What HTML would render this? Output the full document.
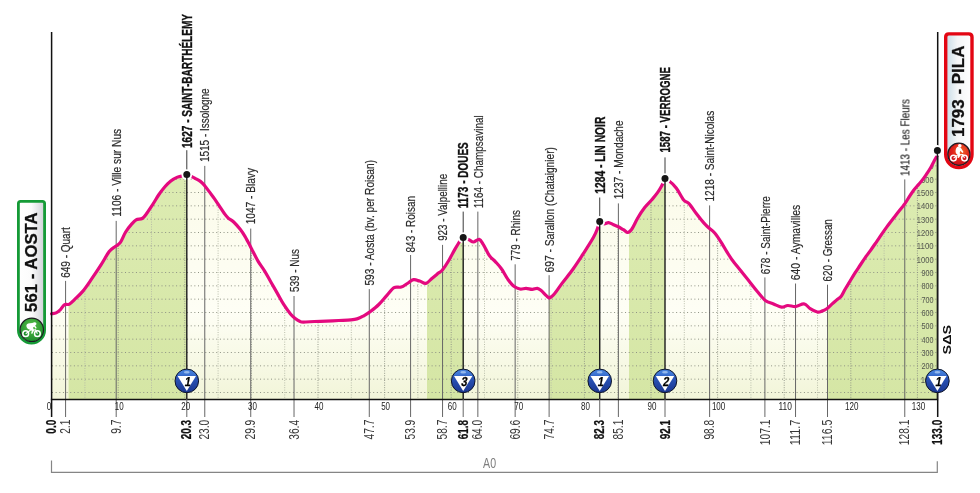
<!DOCTYPE html><html><head><meta charset="utf-8"><title>Stage profile Aosta - Pila</title>
<style>html,body{margin:0;padding:0;background:#fff;}svg{display:block;will-change:transform;}text{font-family:"Liberation Sans",Arial,sans-serif;}</style></head><body>
<svg width="980" height="493" viewBox="0 0 980 493">
<defs>
<clipPath id="area"><path d="M51.6,313.8 C52.4,313.6 54.7,313.6 56.1,312.9 C57.5,312.2 58.8,311.1 60.2,309.8 C61.6,308.5 62.8,305.8 64.3,304.9 C65.8,303.9 67.7,305.0 69.4,304.1 C71.1,303.2 72.3,301.7 74.5,299.6 C76.7,297.5 80.0,294.6 82.7,291.4 C85.4,288.2 87.8,284.6 90.8,280.2 C93.8,275.8 97.9,269.7 101.0,264.9 C104.1,260.1 106.8,254.7 109.2,251.6 C111.6,248.5 113.4,248.0 115.3,246.5 C117.2,245.0 118.7,244.8 120.4,242.4 C122.1,240.0 123.7,235.2 125.5,232.2 C127.3,229.2 129.4,226.6 131.2,224.6 C133.0,222.6 134.3,220.9 136.1,219.9 C137.9,218.9 140.5,219.5 142.2,218.5 C143.9,217.5 144.6,216.3 146.3,214.0 C148.0,211.7 150.4,208.0 152.5,204.8 C154.6,201.6 156.6,198.0 158.6,195.0 C160.6,192.0 162.7,189.3 164.7,187.0 C166.7,184.7 168.8,182.6 170.8,181.0 C172.8,179.4 174.9,178.3 176.9,177.4 C178.9,176.5 181.5,176.2 183.1,175.8 C184.7,175.4 185.6,174.8 186.7,174.8 C187.8,174.8 188.6,175.1 189.9,175.7 C191.2,176.2 192.9,177.1 194.7,178.1 C196.4,179.1 198.8,180.2 200.4,181.4 C202.0,182.6 203.0,183.7 204.5,185.4 C206.0,187.2 207.8,189.7 209.4,191.9 C211.0,194.1 212.6,196.1 214.2,198.4 C215.8,200.7 217.5,203.3 219.1,205.7 C220.7,208.1 222.5,211.0 224.0,213.0 C225.5,215.0 226.4,216.4 228.0,217.9 C229.6,219.4 231.7,220.1 233.7,222.0 C235.7,223.9 238.3,226.9 240.2,229.3 C242.1,231.7 243.5,233.9 245.1,236.6 C246.7,239.3 248.7,243.2 249.9,245.5 C251.1,247.8 251.1,247.9 252.4,250.5 C253.8,253.1 256.0,257.7 258.0,261.1 C260.0,264.5 262.3,267.3 264.5,270.8 C266.7,274.3 268.8,278.4 271.0,282.2 C273.2,286.0 275.3,289.8 277.5,293.6 C279.7,297.4 281.8,301.5 284.0,304.9 C286.2,308.3 288.6,311.6 290.5,313.9 C292.4,316.2 293.8,317.3 295.3,318.5 C296.8,319.7 298.4,320.7 299.7,321.3 C301.0,321.9 300.9,322.1 303.4,322.1 C305.8,322.1 310.5,321.7 314.4,321.5 C318.2,321.3 322.4,321.3 326.5,321.1 C330.6,320.9 334.6,320.7 338.7,320.5 C342.8,320.3 347.8,320.2 350.9,319.9 C353.9,319.6 355.0,319.5 357.0,318.9 C359.0,318.3 361.1,317.3 363.1,316.2 C365.1,315.1 366.6,314.3 369.2,312.4 C371.8,310.4 375.9,307.4 378.8,304.5 C381.8,301.6 384.3,298.1 386.9,295.3 C389.4,292.5 391.7,289.0 394.1,287.6 C396.5,286.2 399.0,287.8 401.2,287.1 C403.4,286.4 405.2,284.8 407.3,283.5 C409.4,282.2 411.4,280.0 413.5,279.6 C415.6,279.2 417.5,280.4 419.6,281.0 C421.7,281.6 423.8,283.9 425.9,283.4 C428.0,282.9 430.1,279.9 432.2,278.2 C434.3,276.5 436.7,274.5 438.4,273.1 C440.1,271.7 440.7,272.1 442.4,270.0 C444.1,267.9 446.6,264.2 448.6,260.8 C450.7,257.4 452.8,252.8 454.7,249.6 C456.6,246.4 458.4,243.4 459.8,241.4 C461.2,239.4 461.8,238.1 463.3,237.8 C464.8,237.5 467.3,239.1 469.0,239.8 C470.7,240.5 471.8,242.1 473.5,242.0 C475.2,241.9 477.6,239.0 479.2,239.4 C480.8,239.8 481.6,241.8 483.3,244.5 C485.0,247.2 487.4,252.8 489.4,255.7 C491.4,258.6 493.5,259.6 495.5,261.8 C497.5,264.0 499.6,266.1 501.6,269.0 C503.7,271.9 505.8,276.3 507.8,279.2 C509.9,282.1 511.9,284.7 513.9,286.3 C515.9,287.9 518.0,288.6 520.0,289.0 C522.0,289.4 524.1,288.3 526.1,288.4 C528.1,288.5 530.3,289.4 532.2,289.4 C534.1,289.4 535.8,288.2 537.3,288.4 C538.8,288.6 539.7,289.4 541.2,290.6 C542.8,291.9 545.2,294.7 546.6,295.9 C548.0,297.1 548.1,298.2 549.4,297.9 C550.7,297.6 552.2,296.4 554.3,294.0 C556.4,291.6 558.9,287.6 562.0,283.4 C565.1,279.2 569.6,273.9 573.1,269.0 C576.6,264.1 579.9,259.0 583.3,253.7 C586.7,248.4 591.1,241.6 593.5,237.3 C595.9,233.1 596.6,230.7 597.6,228.2 C598.6,225.7 598.5,223.0 599.6,222.3 C600.7,221.6 602.7,223.9 604.2,223.9 C605.7,223.9 607.0,222.5 608.5,222.6 C610.0,222.7 611.9,224.0 613.5,224.7 C615.1,225.4 616.8,226.0 618.4,226.8 C620.0,227.6 621.8,228.8 623.4,229.7 C625.0,230.6 626.3,232.6 627.7,232.5 C629.1,232.4 630.2,231.4 631.9,229.0 C633.5,226.6 635.5,221.9 637.6,218.3 C639.7,214.7 642.3,210.7 644.7,207.6 C647.1,204.5 649.7,202.3 651.8,199.8 C653.9,197.3 655.8,195.1 657.5,192.7 C659.2,190.3 660.6,187.7 661.8,185.6 C663.0,183.5 663.7,181.0 664.9,180.2 C666.1,179.4 667.2,179.7 669.1,181.0 C671.0,182.3 674.0,185.0 676.4,188.2 C678.8,191.4 681.6,197.5 683.7,200.1 C685.8,202.7 687.1,201.5 689.2,203.8 C691.3,206.1 694.1,210.6 696.5,213.8 C698.9,217.0 701.8,220.6 703.8,222.9 C705.8,225.2 706.6,225.8 708.4,227.5 C710.2,229.2 712.4,230.3 714.7,233.0 C717.0,235.7 720.0,240.4 722.0,243.6 C724.0,246.8 725.2,249.2 726.9,251.9 C728.6,254.6 729.7,256.6 732.0,259.7 C734.3,262.8 738.0,267.2 740.8,270.8 C743.6,274.4 746.3,277.6 749.0,281.0 C751.7,284.4 754.4,288.0 757.1,291.2 C759.8,294.4 762.6,298.3 765.3,300.4 C768.0,302.5 770.8,302.8 773.5,303.9 C776.2,305.0 779.2,306.8 781.6,307.1 C784.0,307.4 785.4,305.6 787.8,305.5 C790.2,305.4 793.2,306.8 795.9,306.5 C798.6,306.2 801.7,303.5 804.1,303.9 C806.5,304.2 808.0,307.2 810.2,308.6 C812.4,310.0 815.3,311.6 817.3,312.0 C819.2,312.4 820.3,311.7 821.9,311.1 C823.5,310.6 825.2,309.8 826.8,308.7 C828.4,307.6 830.0,305.8 831.6,304.4 C833.2,303.0 834.9,301.5 836.5,300.1 C838.1,298.7 840.0,297.7 841.4,295.9 C842.8,294.1 843.6,291.8 845.1,289.3 C846.6,286.8 848.4,283.8 850.1,281.0 C851.8,278.2 853.5,275.4 855.2,272.7 C856.9,270.0 858.6,267.6 860.3,265.0 C862.0,262.4 863.7,259.8 865.4,257.4 C867.1,255.0 868.4,253.4 870.4,250.6 C872.4,247.8 874.8,244.2 877.5,240.3 C880.2,236.4 883.5,231.5 886.5,227.4 C889.5,223.3 892.5,219.5 895.6,215.5 C898.7,211.5 902.7,206.6 904.9,203.6 C907.1,200.6 907.3,199.8 908.7,197.6 C910.1,195.4 911.9,192.7 913.5,190.5 C915.1,188.3 916.9,186.5 918.5,184.6 C920.1,182.7 921.8,180.8 923.2,178.9 C924.7,177.0 925.9,175.1 927.2,173.2 C928.5,171.3 929.7,169.4 930.9,167.3 C932.1,165.2 933.3,162.6 934.4,160.6 C935.5,158.6 936.9,156.2 937.4,155.3 L937.4,399.5 L51.6,399.5 Z"/></clipPath>
<linearGradient id="gCream" gradientUnits="userSpaceOnUse" x1="0" y1="170" x2="0" y2="399"><stop offset="0" stop-color="#fbfbe9"/><stop offset="0.62" stop-color="#fefef5"/><stop offset="1" stop-color="#f2f5d9"/></linearGradient>
<linearGradient id="gGreen" gradientUnits="userSpaceOnUse" x1="0" y1="150" x2="0" y2="399"><stop offset="0" stop-color="#ddecb3"/><stop offset="1" stop-color="#d5e6a5"/></linearGradient>
<linearGradient id="gKom" x1="0" y1="0" x2="0" y2="1"><stop offset="0" stop-color="#4a86e0"/><stop offset="0.26" stop-color="#3a70d0"/><stop offset="0.3" stop-color="#2c58bc"/><stop offset="1" stop-color="#1a3690"/></linearGradient>
<radialGradient id="gGreenBall" cx="0.5" cy="0.35" r="0.65"><stop offset="0" stop-color="#5cc04a"/><stop offset="1" stop-color="#1a8a2a"/></radialGradient>
<radialGradient id="gRedBall" cx="0.6" cy="0.35" r="0.65"><stop offset="0" stop-color="#f06a2a"/><stop offset="0.6" stop-color="#e0201a"/><stop offset="1" stop-color="#c8101a"/></radialGradient>
<linearGradient id="gBadgeG" x1="0" y1="0" x2="1" y2="0"><stop offset="0" stop-color="#ffffff"/><stop offset="0.5" stop-color="#fbfbfb"/><stop offset="1" stop-color="#cfd0d6"/></linearGradient>
<linearGradient id="gBadgeR" x1="0" y1="0" x2="1" y2="0"><stop offset="0" stop-color="#c6dbe6"/><stop offset="0.45" stop-color="#f4f6f7"/><stop offset="1" stop-color="#ffffff"/></linearGradient>
</defs>
<g clip-path="url(#area)">
<rect x="51.6" y="140" width="886" height="260" fill="url(#gCream)"/>
<rect x="68.6" y="140" width="118.1" height="260" fill="url(#gGreen)"/>
<rect x="427.0" y="140" width="36.3" height="260" fill="url(#gGreen)"/>
<rect x="549.0" y="140" width="50.6" height="260" fill="url(#gGreen)"/>
<rect x="629.0" y="140" width="35.9" height="260" fill="url(#gGreen)"/>
<rect x="828.0" y="140" width="109.4" height="260" fill="url(#gGreen)"/>
<line x1="52" y1="392.50" x2="937" y2="392.50" stroke="#8f9384" stroke-width="1" stroke-dasharray="1 2.65"/>
<line x1="52" y1="379.17" x2="937" y2="379.17" stroke="#8f9384" stroke-width="1" stroke-dasharray="1 2.65"/>
<line x1="52" y1="365.83" x2="937" y2="365.83" stroke="#8f9384" stroke-width="1" stroke-dasharray="1 2.65"/>
<line x1="52" y1="352.50" x2="937" y2="352.50" stroke="#8f9384" stroke-width="1" stroke-dasharray="1 2.65"/>
<line x1="52" y1="339.17" x2="937" y2="339.17" stroke="#8f9384" stroke-width="1" stroke-dasharray="1 2.65"/>
<line x1="52" y1="325.83" x2="937" y2="325.83" stroke="#8f9384" stroke-width="1" stroke-dasharray="1 2.65"/>
<line x1="52" y1="312.50" x2="937" y2="312.50" stroke="#8f9384" stroke-width="1" stroke-dasharray="1 2.65"/>
<line x1="52" y1="299.17" x2="937" y2="299.17" stroke="#8f9384" stroke-width="1" stroke-dasharray="1 2.65"/>
<line x1="52" y1="285.84" x2="937" y2="285.84" stroke="#8f9384" stroke-width="1" stroke-dasharray="1 2.65"/>
<line x1="52" y1="272.50" x2="937" y2="272.50" stroke="#8f9384" stroke-width="1" stroke-dasharray="1 2.65"/>
<line x1="52" y1="259.17" x2="937" y2="259.17" stroke="#8f9384" stroke-width="1" stroke-dasharray="1 2.65"/>
<line x1="52" y1="245.84" x2="937" y2="245.84" stroke="#8f9384" stroke-width="1" stroke-dasharray="1 2.65"/>
<line x1="52" y1="232.50" x2="937" y2="232.50" stroke="#8f9384" stroke-width="1" stroke-dasharray="1 2.65"/>
<line x1="52" y1="219.17" x2="937" y2="219.17" stroke="#8f9384" stroke-width="1" stroke-dasharray="1 2.65"/>
<line x1="52" y1="205.84" x2="937" y2="205.84" stroke="#8f9384" stroke-width="1" stroke-dasharray="1 2.65"/>
<line x1="52" y1="192.50" x2="937" y2="192.50" stroke="#8f9384" stroke-width="1" stroke-dasharray="1 2.65"/>
<line x1="52" y1="179.17" x2="937" y2="179.17" stroke="#8f9384" stroke-width="1" stroke-dasharray="1 2.65"/>
<line x1="52" y1="165.84" x2="937" y2="165.84" stroke="#8f9384" stroke-width="1" stroke-dasharray="1 2.65"/>
<line x1="84.90" y1="140" x2="84.90" y2="399" stroke="#b4b9a6" stroke-width="0.9" stroke-dasharray="1 1.4"/>
<line x1="118.20" y1="140" x2="118.20" y2="399" stroke="#8d9283" stroke-width="0.9" stroke-dasharray="1 1.4"/>
<line x1="151.50" y1="140" x2="151.50" y2="399" stroke="#b4b9a6" stroke-width="0.9" stroke-dasharray="1 1.4"/>
<line x1="184.80" y1="140" x2="184.80" y2="399" stroke="#8d9283" stroke-width="0.9" stroke-dasharray="1 1.4"/>
<line x1="218.10" y1="140" x2="218.10" y2="399" stroke="#b4b9a6" stroke-width="0.9" stroke-dasharray="1 1.4"/>
<line x1="251.40" y1="140" x2="251.40" y2="399" stroke="#8d9283" stroke-width="0.9" stroke-dasharray="1 1.4"/>
<line x1="284.71" y1="140" x2="284.71" y2="399" stroke="#b4b9a6" stroke-width="0.9" stroke-dasharray="1 1.4"/>
<line x1="318.01" y1="140" x2="318.01" y2="399" stroke="#8d9283" stroke-width="0.9" stroke-dasharray="1 1.4"/>
<line x1="351.31" y1="140" x2="351.31" y2="399" stroke="#b4b9a6" stroke-width="0.9" stroke-dasharray="1 1.4"/>
<line x1="384.61" y1="140" x2="384.61" y2="399" stroke="#8d9283" stroke-width="0.9" stroke-dasharray="1 1.4"/>
<line x1="417.91" y1="140" x2="417.91" y2="399" stroke="#b4b9a6" stroke-width="0.9" stroke-dasharray="1 1.4"/>
<line x1="451.21" y1="140" x2="451.21" y2="399" stroke="#8d9283" stroke-width="0.9" stroke-dasharray="1 1.4"/>
<line x1="484.51" y1="140" x2="484.51" y2="399" stroke="#b4b9a6" stroke-width="0.9" stroke-dasharray="1 1.4"/>
<line x1="517.81" y1="140" x2="517.81" y2="399" stroke="#8d9283" stroke-width="0.9" stroke-dasharray="1 1.4"/>
<line x1="551.11" y1="140" x2="551.11" y2="399" stroke="#b4b9a6" stroke-width="0.9" stroke-dasharray="1 1.4"/>
<line x1="584.41" y1="140" x2="584.41" y2="399" stroke="#8d9283" stroke-width="0.9" stroke-dasharray="1 1.4"/>
<line x1="617.71" y1="140" x2="617.71" y2="399" stroke="#b4b9a6" stroke-width="0.9" stroke-dasharray="1 1.4"/>
<line x1="651.01" y1="140" x2="651.01" y2="399" stroke="#8d9283" stroke-width="0.9" stroke-dasharray="1 1.4"/>
<line x1="684.31" y1="140" x2="684.31" y2="399" stroke="#b4b9a6" stroke-width="0.9" stroke-dasharray="1 1.4"/>
<line x1="717.62" y1="140" x2="717.62" y2="399" stroke="#8d9283" stroke-width="0.9" stroke-dasharray="1 1.4"/>
<line x1="750.92" y1="140" x2="750.92" y2="399" stroke="#b4b9a6" stroke-width="0.9" stroke-dasharray="1 1.4"/>
<line x1="784.22" y1="140" x2="784.22" y2="399" stroke="#8d9283" stroke-width="0.9" stroke-dasharray="1 1.4"/>
<line x1="817.52" y1="140" x2="817.52" y2="399" stroke="#b4b9a6" stroke-width="0.9" stroke-dasharray="1 1.4"/>
<line x1="850.82" y1="140" x2="850.82" y2="399" stroke="#8d9283" stroke-width="0.9" stroke-dasharray="1 1.4"/>
<line x1="884.12" y1="140" x2="884.12" y2="399" stroke="#b4b9a6" stroke-width="0.9" stroke-dasharray="1 1.4"/>
<line x1="917.42" y1="140" x2="917.42" y2="399" stroke="#8d9283" stroke-width="0.9" stroke-dasharray="1 1.4"/>
<text x="933.60" y="382.77" font-size="8.4" fill="#55584f" text-anchor="end" textLength="12.94" lengthAdjust="spacingAndGlyphs">100</text>
<text x="933.59" y="369.43" font-size="8.4" fill="#55584f" text-anchor="end" textLength="12.20" lengthAdjust="spacingAndGlyphs">200</text>
<text x="933.58" y="356.10" font-size="8.4" fill="#55584f" text-anchor="end" textLength="12.11" lengthAdjust="spacingAndGlyphs">300</text>
<text x="933.58" y="342.77" font-size="8.4" fill="#55584f" text-anchor="end" textLength="12.00" lengthAdjust="spacingAndGlyphs">400</text>
<text x="933.58" y="329.44" font-size="8.4" fill="#55584f" text-anchor="end" textLength="12.12" lengthAdjust="spacingAndGlyphs">500</text>
<text x="933.59" y="316.10" font-size="8.4" fill="#55584f" text-anchor="end" textLength="12.21" lengthAdjust="spacingAndGlyphs">600</text>
<text x="933.59" y="302.77" font-size="8.4" fill="#55584f" text-anchor="end" textLength="12.21" lengthAdjust="spacingAndGlyphs">700</text>
<text x="933.58" y="289.44" font-size="8.4" fill="#55584f" text-anchor="end" textLength="12.15" lengthAdjust="spacingAndGlyphs">800</text>
<text x="933.59" y="276.10" font-size="8.4" fill="#55584f" text-anchor="end" textLength="12.18" lengthAdjust="spacingAndGlyphs">900</text>
<text x="933.59" y="262.77" font-size="8.4" fill="#55584f" text-anchor="end" textLength="16.77" lengthAdjust="spacingAndGlyphs">1000</text>
<text x="933.59" y="249.44" font-size="8.4" fill="#55584f" text-anchor="end" textLength="16.77" lengthAdjust="spacingAndGlyphs">1100</text>
<text x="933.59" y="236.10" font-size="8.4" fill="#55584f" text-anchor="end" textLength="16.77" lengthAdjust="spacingAndGlyphs">1200</text>
<text x="933.59" y="222.77" font-size="8.4" fill="#55584f" text-anchor="end" textLength="16.77" lengthAdjust="spacingAndGlyphs">1300</text>
<text x="933.59" y="209.44" font-size="8.4" fill="#55584f" text-anchor="end" textLength="16.77" lengthAdjust="spacingAndGlyphs">1400</text>
<text x="933.59" y="196.10" font-size="8.4" fill="#55584f" text-anchor="end" textLength="16.77" lengthAdjust="spacingAndGlyphs">1500</text>
<text x="933.59" y="182.77" font-size="8.4" fill="#55584f" text-anchor="end" textLength="16.77" lengthAdjust="spacingAndGlyphs">1600</text>
<text x="933.59" y="169.44" font-size="8.4" fill="#55584f" text-anchor="end" textLength="16.77" lengthAdjust="spacingAndGlyphs">1700</text>
</g>
<line x1="65.59" y1="280.9" x2="65.59" y2="417" stroke="#666666" stroke-width="1"/>
<line x1="116.20" y1="220.9" x2="116.20" y2="417" stroke="#666666" stroke-width="1"/>
<line x1="204.78" y1="165.9" x2="204.78" y2="417" stroke="#666666" stroke-width="1"/>
<line x1="250.74" y1="228.6" x2="250.74" y2="417" stroke="#666666" stroke-width="1"/>
<line x1="294.03" y1="296.0" x2="294.03" y2="417" stroke="#666666" stroke-width="1"/>
<line x1="369.29" y1="289.1" x2="369.29" y2="417" stroke="#666666" stroke-width="1"/>
<line x1="410.58" y1="255.0" x2="410.58" y2="417" stroke="#666666" stroke-width="1"/>
<line x1="442.55" y1="244.9" x2="442.55" y2="417" stroke="#666666" stroke-width="1"/>
<line x1="477.85" y1="211.6" x2="477.85" y2="417" stroke="#666666" stroke-width="1"/>
<line x1="515.15" y1="264.3" x2="515.15" y2="417" stroke="#666666" stroke-width="1"/>
<line x1="549.11" y1="275.2" x2="549.11" y2="417" stroke="#666666" stroke-width="1"/>
<line x1="618.38" y1="203.4" x2="618.38" y2="417" stroke="#666666" stroke-width="1"/>
<line x1="709.62" y1="205.4" x2="709.62" y2="417" stroke="#666666" stroke-width="1"/>
<line x1="764.90" y1="277.4" x2="764.90" y2="417" stroke="#666666" stroke-width="1"/>
<line x1="795.54" y1="283.5" x2="795.54" y2="417" stroke="#666666" stroke-width="1"/>
<line x1="827.51" y1="284.7" x2="827.51" y2="417" stroke="#666666" stroke-width="1"/>
<line x1="904.77" y1="179.4" x2="904.77" y2="417" stroke="#666666" stroke-width="1"/>
<line x1="186.80" y1="150.2" x2="186.80" y2="174.6" stroke="#3a3a3a" stroke-width="1"/>
<line x1="463.20" y1="211.6" x2="463.20" y2="237.6" stroke="#3a3a3a" stroke-width="1"/>
<line x1="599.73" y1="197.5" x2="599.73" y2="221.5" stroke="#3a3a3a" stroke-width="1"/>
<line x1="665.00" y1="157.4" x2="665.00" y2="178.6" stroke="#3a3a3a" stroke-width="1"/>
<path d="M51.6,313.8 C52.4,313.6 54.7,313.6 56.1,312.9 C57.5,312.2 58.8,311.1 60.2,309.8 C61.6,308.5 62.8,305.8 64.3,304.9 C65.8,303.9 67.7,305.0 69.4,304.1 C71.1,303.2 72.3,301.7 74.5,299.6 C76.7,297.5 80.0,294.6 82.7,291.4 C85.4,288.2 87.8,284.6 90.8,280.2 C93.8,275.8 97.9,269.7 101.0,264.9 C104.1,260.1 106.8,254.7 109.2,251.6 C111.6,248.5 113.4,248.0 115.3,246.5 C117.2,245.0 118.7,244.8 120.4,242.4 C122.1,240.0 123.7,235.2 125.5,232.2 C127.3,229.2 129.4,226.6 131.2,224.6 C133.0,222.6 134.3,220.9 136.1,219.9 C137.9,218.9 140.5,219.5 142.2,218.5 C143.9,217.5 144.6,216.3 146.3,214.0 C148.0,211.7 150.4,208.0 152.5,204.8 C154.6,201.6 156.6,198.0 158.6,195.0 C160.6,192.0 162.7,189.3 164.7,187.0 C166.7,184.7 168.8,182.6 170.8,181.0 C172.8,179.4 174.9,178.3 176.9,177.4 C178.9,176.5 181.5,176.2 183.1,175.8 C184.7,175.4 185.6,174.8 186.7,174.8 C187.8,174.8 188.6,175.1 189.9,175.7 C191.2,176.2 192.9,177.1 194.7,178.1 C196.4,179.1 198.8,180.2 200.4,181.4 C202.0,182.6 203.0,183.7 204.5,185.4 C206.0,187.2 207.8,189.7 209.4,191.9 C211.0,194.1 212.6,196.1 214.2,198.4 C215.8,200.7 217.5,203.3 219.1,205.7 C220.7,208.1 222.5,211.0 224.0,213.0 C225.5,215.0 226.4,216.4 228.0,217.9 C229.6,219.4 231.7,220.1 233.7,222.0 C235.7,223.9 238.3,226.9 240.2,229.3 C242.1,231.7 243.5,233.9 245.1,236.6 C246.7,239.3 248.7,243.2 249.9,245.5 C251.1,247.8 251.1,247.9 252.4,250.5 C253.8,253.1 256.0,257.7 258.0,261.1 C260.0,264.5 262.3,267.3 264.5,270.8 C266.7,274.3 268.8,278.4 271.0,282.2 C273.2,286.0 275.3,289.8 277.5,293.6 C279.7,297.4 281.8,301.5 284.0,304.9 C286.2,308.3 288.6,311.6 290.5,313.9 C292.4,316.2 293.8,317.3 295.3,318.5 C296.8,319.7 298.4,320.7 299.7,321.3 C301.0,321.9 300.9,322.1 303.4,322.1 C305.8,322.1 310.5,321.7 314.4,321.5 C318.2,321.3 322.4,321.3 326.5,321.1 C330.6,320.9 334.6,320.7 338.7,320.5 C342.8,320.3 347.8,320.2 350.9,319.9 C353.9,319.6 355.0,319.5 357.0,318.9 C359.0,318.3 361.1,317.3 363.1,316.2 C365.1,315.1 366.6,314.3 369.2,312.4 C371.8,310.4 375.9,307.4 378.8,304.5 C381.8,301.6 384.3,298.1 386.9,295.3 C389.4,292.5 391.7,289.0 394.1,287.6 C396.5,286.2 399.0,287.8 401.2,287.1 C403.4,286.4 405.2,284.8 407.3,283.5 C409.4,282.2 411.4,280.0 413.5,279.6 C415.6,279.2 417.5,280.4 419.6,281.0 C421.7,281.6 423.8,283.9 425.9,283.4 C428.0,282.9 430.1,279.9 432.2,278.2 C434.3,276.5 436.7,274.5 438.4,273.1 C440.1,271.7 440.7,272.1 442.4,270.0 C444.1,267.9 446.6,264.2 448.6,260.8 C450.7,257.4 452.8,252.8 454.7,249.6 C456.6,246.4 458.4,243.4 459.8,241.4 C461.2,239.4 461.8,238.1 463.3,237.8 C464.8,237.5 467.3,239.1 469.0,239.8 C470.7,240.5 471.8,242.1 473.5,242.0 C475.2,241.9 477.6,239.0 479.2,239.4 C480.8,239.8 481.6,241.8 483.3,244.5 C485.0,247.2 487.4,252.8 489.4,255.7 C491.4,258.6 493.5,259.6 495.5,261.8 C497.5,264.0 499.6,266.1 501.6,269.0 C503.7,271.9 505.8,276.3 507.8,279.2 C509.9,282.1 511.9,284.7 513.9,286.3 C515.9,287.9 518.0,288.6 520.0,289.0 C522.0,289.4 524.1,288.3 526.1,288.4 C528.1,288.5 530.3,289.4 532.2,289.4 C534.1,289.4 535.8,288.2 537.3,288.4 C538.8,288.6 539.7,289.4 541.2,290.6 C542.8,291.9 545.2,294.7 546.6,295.9 C548.0,297.1 548.1,298.2 549.4,297.9 C550.7,297.6 552.2,296.4 554.3,294.0 C556.4,291.6 558.9,287.6 562.0,283.4 C565.1,279.2 569.6,273.9 573.1,269.0 C576.6,264.1 579.9,259.0 583.3,253.7 C586.7,248.4 591.1,241.6 593.5,237.3 C595.9,233.1 596.6,230.7 597.6,228.2 C598.6,225.7 598.5,223.0 599.6,222.3 C600.7,221.6 602.7,223.9 604.2,223.9 C605.7,223.9 607.0,222.5 608.5,222.6 C610.0,222.7 611.9,224.0 613.5,224.7 C615.1,225.4 616.8,226.0 618.4,226.8 C620.0,227.6 621.8,228.8 623.4,229.7 C625.0,230.6 626.3,232.6 627.7,232.5 C629.1,232.4 630.2,231.4 631.9,229.0 C633.5,226.6 635.5,221.9 637.6,218.3 C639.7,214.7 642.3,210.7 644.7,207.6 C647.1,204.5 649.7,202.3 651.8,199.8 C653.9,197.3 655.8,195.1 657.5,192.7 C659.2,190.3 660.6,187.7 661.8,185.6 C663.0,183.5 663.7,181.0 664.9,180.2 C666.1,179.4 667.2,179.7 669.1,181.0 C671.0,182.3 674.0,185.0 676.4,188.2 C678.8,191.4 681.6,197.5 683.7,200.1 C685.8,202.7 687.1,201.5 689.2,203.8 C691.3,206.1 694.1,210.6 696.5,213.8 C698.9,217.0 701.8,220.6 703.8,222.9 C705.8,225.2 706.6,225.8 708.4,227.5 C710.2,229.2 712.4,230.3 714.7,233.0 C717.0,235.7 720.0,240.4 722.0,243.6 C724.0,246.8 725.2,249.2 726.9,251.9 C728.6,254.6 729.7,256.6 732.0,259.7 C734.3,262.8 738.0,267.2 740.8,270.8 C743.6,274.4 746.3,277.6 749.0,281.0 C751.7,284.4 754.4,288.0 757.1,291.2 C759.8,294.4 762.6,298.3 765.3,300.4 C768.0,302.5 770.8,302.8 773.5,303.9 C776.2,305.0 779.2,306.8 781.6,307.1 C784.0,307.4 785.4,305.6 787.8,305.5 C790.2,305.4 793.2,306.8 795.9,306.5 C798.6,306.2 801.7,303.5 804.1,303.9 C806.5,304.2 808.0,307.2 810.2,308.6 C812.4,310.0 815.3,311.6 817.3,312.0 C819.2,312.4 820.3,311.7 821.9,311.1 C823.5,310.6 825.2,309.8 826.8,308.7 C828.4,307.6 830.0,305.8 831.6,304.4 C833.2,303.0 834.9,301.5 836.5,300.1 C838.1,298.7 840.0,297.7 841.4,295.9 C842.8,294.1 843.6,291.8 845.1,289.3 C846.6,286.8 848.4,283.8 850.1,281.0 C851.8,278.2 853.5,275.4 855.2,272.7 C856.9,270.0 858.6,267.6 860.3,265.0 C862.0,262.4 863.7,259.8 865.4,257.4 C867.1,255.0 868.4,253.4 870.4,250.6 C872.4,247.8 874.8,244.2 877.5,240.3 C880.2,236.4 883.5,231.5 886.5,227.4 C889.5,223.3 892.5,219.5 895.6,215.5 C898.7,211.5 902.7,206.6 904.9,203.6 C907.1,200.6 907.3,199.8 908.7,197.6 C910.1,195.4 911.9,192.7 913.5,190.5 C915.1,188.3 916.9,186.5 918.5,184.6 C920.1,182.7 921.8,180.8 923.2,178.9 C924.7,177.0 925.9,175.1 927.2,173.2 C928.5,171.3 929.7,169.4 930.9,167.3 C932.1,165.2 933.3,162.6 934.4,160.6 C935.5,158.6 936.9,156.2 937.4,155.3" fill="none" stroke="#e4097f" stroke-width="3.2" stroke-linejoin="round" stroke-linecap="round"/>
<line x1="51.6" y1="32" x2="51.6" y2="417" stroke="#111" stroke-width="1.5"/>
<line x1="937.7" y1="32" x2="937.7" y2="417" stroke="#111" stroke-width="1.5"/>
<line x1="50.85" y1="399.5" x2="938.15" y2="399.5" stroke="#111" stroke-width="1.6"/>
<circle cx="186.80" cy="174.6" r="5.4" fill="#fff"/>
<line x1="186.80" y1="174.6" x2="186.80" y2="399" stroke="#1a1a1a" stroke-width="1.4"/>
<line x1="186.80" y1="399" x2="186.80" y2="417" stroke="#666666" stroke-width="1"/>
<circle cx="186.80" cy="174.6" r="3.5" fill="#161616"/>
<circle cx="463.20" cy="237.6" r="5.4" fill="#fff"/>
<line x1="463.20" y1="237.6" x2="463.20" y2="399" stroke="#1a1a1a" stroke-width="1.4"/>
<line x1="463.20" y1="399" x2="463.20" y2="417" stroke="#666666" stroke-width="1"/>
<circle cx="463.20" cy="237.6" r="3.5" fill="#161616"/>
<circle cx="599.73" cy="221.5" r="5.4" fill="#fff"/>
<line x1="599.73" y1="221.5" x2="599.73" y2="399" stroke="#1a1a1a" stroke-width="1.4"/>
<line x1="599.73" y1="399" x2="599.73" y2="417" stroke="#666666" stroke-width="1"/>
<circle cx="599.73" cy="221.5" r="3.5" fill="#161616"/>
<circle cx="665.00" cy="178.6" r="5.4" fill="#fff"/>
<line x1="665.00" y1="178.6" x2="665.00" y2="399" stroke="#1a1a1a" stroke-width="1.4"/>
<line x1="665.00" y1="399" x2="665.00" y2="417" stroke="#666666" stroke-width="1"/>
<circle cx="665.00" cy="178.6" r="3.5" fill="#161616"/>
<circle cx="937.40" cy="150.5" r="5.4" fill="#fff"/>
<line x1="937.40" y1="150.5" x2="937.40" y2="399" stroke="#1a1a1a" stroke-width="1.4"/>
<circle cx="937.40" cy="150.5" r="3.5" fill="#161616"/>
<g transform="translate(186.80,380.9)">
<circle r="11.8" fill="url(#gKom)" stroke="#0e1428" stroke-width="1.0"/>
<path d="M-9.2,-5.0 L9.2,-5.0 L0,10.2 Z" fill="#fff"/>
<ellipse cx="0" cy="-8.6" rx="2.9" ry="1.2" fill="#9fc0ee" opacity="0.9"/>
<text transform="translate(0.5,5.3) skewX(-10)" font-size="13" font-weight="bold" text-anchor="middle" fill="#000" stroke="#000" stroke-width="0.3" textLength="6.0" lengthAdjust="spacingAndGlyphs">1</text>
</g>
<g transform="translate(463.20,380.9)">
<circle r="11.8" fill="url(#gKom)" stroke="#0e1428" stroke-width="1.0"/>
<path d="M-9.2,-5.0 L9.2,-5.0 L0,10.2 Z" fill="#fff"/>
<ellipse cx="0" cy="-8.6" rx="2.9" ry="1.2" fill="#9fc0ee" opacity="0.9"/>
<text transform="translate(0.5,5.3) skewX(-10)" font-size="13" font-weight="bold" text-anchor="middle" fill="#000" stroke="#000" stroke-width="0.3" textLength="6.0" lengthAdjust="spacingAndGlyphs">3</text>
</g>
<g transform="translate(599.73,380.9)">
<circle r="11.8" fill="url(#gKom)" stroke="#0e1428" stroke-width="1.0"/>
<path d="M-9.2,-5.0 L9.2,-5.0 L0,10.2 Z" fill="#fff"/>
<ellipse cx="0" cy="-8.6" rx="2.9" ry="1.2" fill="#9fc0ee" opacity="0.9"/>
<text transform="translate(0.5,5.3) skewX(-10)" font-size="13" font-weight="bold" text-anchor="middle" fill="#000" stroke="#000" stroke-width="0.3" textLength="6.0" lengthAdjust="spacingAndGlyphs">1</text>
</g>
<g transform="translate(665.00,380.9)">
<circle r="11.8" fill="url(#gKom)" stroke="#0e1428" stroke-width="1.0"/>
<path d="M-9.2,-5.0 L9.2,-5.0 L0,10.2 Z" fill="#fff"/>
<ellipse cx="0" cy="-8.6" rx="2.9" ry="1.2" fill="#9fc0ee" opacity="0.9"/>
<text transform="translate(0.5,5.3) skewX(-10)" font-size="13" font-weight="bold" text-anchor="middle" fill="#000" stroke="#000" stroke-width="0.3" textLength="6.0" lengthAdjust="spacingAndGlyphs">2</text>
</g>
<g transform="translate(937.40,380.9)">
<circle r="11.8" fill="url(#gKom)" stroke="#0e1428" stroke-width="1.0"/>
<path d="M-9.2,-5.0 L9.2,-5.0 L0,10.2 Z" fill="#fff"/>
<ellipse cx="0" cy="-8.6" rx="2.9" ry="1.2" fill="#9fc0ee" opacity="0.9"/>
<text transform="translate(0.5,5.3) skewX(-10)" font-size="13" font-weight="bold" text-anchor="middle" fill="#000" stroke="#000" stroke-width="0.3" textLength="6.0" lengthAdjust="spacingAndGlyphs">1</text>
</g>
<text transform="translate(70.26,277.81) rotate(-90)" font-size="13.40" fill="#2b2b2b" textLength="50.58" lengthAdjust="spacingAndGlyphs" stroke="#2b2b2b" stroke-width="0.2">649 - Quart</text>
<text transform="translate(120.88,216.67) rotate(-90)" font-size="13.40" fill="#2b2b2b" textLength="87.83" lengthAdjust="spacingAndGlyphs" stroke="#2b2b2b" stroke-width="0.2">1106 - Ville sur Nus</text>
<text transform="translate(191.76,148.03) rotate(-90)" font-size="14.20" font-weight="bold" fill="#111" textLength="134.09" lengthAdjust="spacingAndGlyphs" stroke="#111" stroke-width="0.35">1627 - SAINT-BARTHÉLEMY</text>
<text transform="translate(209.46,162.06) rotate(-90)" font-size="13.40" fill="#2b2b2b" textLength="73.70" lengthAdjust="spacingAndGlyphs" stroke="#2b2b2b" stroke-width="0.2">1515 - Issologne</text>
<text transform="translate(255.42,224.37) rotate(-90)" font-size="13.40" fill="#2b2b2b" textLength="56.39" lengthAdjust="spacingAndGlyphs" stroke="#2b2b2b" stroke-width="0.2">1047 - Blavy</text>
<text transform="translate(298.71,292.00) rotate(-90)" font-size="13.40" fill="#2b2b2b" textLength="42.85" lengthAdjust="spacingAndGlyphs" stroke="#2b2b2b" stroke-width="0.2">539 - Nus</text>
<text transform="translate(373.97,285.60) rotate(-90)" font-size="13.40" fill="#2b2b2b" textLength="125.63" lengthAdjust="spacingAndGlyphs" stroke="#2b2b2b" stroke-width="0.2">593 - Aosta (bv. per Roisan)</text>
<text transform="translate(415.26,252.43) rotate(-90)" font-size="13.40" fill="#2b2b2b" textLength="56.48" lengthAdjust="spacingAndGlyphs" stroke="#2b2b2b" stroke-width="0.2">843 - Roisan</text>
<text transform="translate(447.23,240.86) rotate(-90)" font-size="13.40" fill="#2b2b2b" textLength="66.99" lengthAdjust="spacingAndGlyphs" stroke="#2b2b2b" stroke-width="0.2">923 - Valpelline</text>
<text transform="translate(468.15,208.22) rotate(-90)" font-size="14.20" font-weight="bold" fill="#111" textLength="65.91" lengthAdjust="spacingAndGlyphs" stroke="#111" stroke-width="0.35">1173 - DOUES</text>
<text transform="translate(482.53,208.35) rotate(-90)" font-size="13.40" fill="#2b2b2b" textLength="93.01" lengthAdjust="spacingAndGlyphs" stroke="#2b2b2b" stroke-width="0.2">1164 - Champsavinal</text>
<text transform="translate(519.82,260.81) rotate(-90)" font-size="13.40" fill="#2b2b2b" textLength="50.77" lengthAdjust="spacingAndGlyphs" stroke="#2b2b2b" stroke-width="0.2">779 - Rhins</text>
<text transform="translate(553.79,272.42) rotate(-90)" font-size="13.40" fill="#2b2b2b" textLength="125.45" lengthAdjust="spacingAndGlyphs" stroke="#2b2b2b" stroke-width="0.2">697 - Sarallon (Chataignier)</text>
<text transform="translate(604.69,193.75) rotate(-90)" font-size="14.20" font-weight="bold" fill="#111" textLength="77.06" lengthAdjust="spacingAndGlyphs" stroke="#111" stroke-width="0.35">1284 - LIN NOIR</text>
<text transform="translate(623.06,199.37) rotate(-90)" font-size="13.40" fill="#2b2b2b" textLength="79.02" lengthAdjust="spacingAndGlyphs" stroke="#2b2b2b" stroke-width="0.2">1237 - Mondache</text>
<text transform="translate(669.96,152.51) rotate(-90)" font-size="14.20" font-weight="bold" fill="#111" textLength="85.39" lengthAdjust="spacingAndGlyphs" stroke="#111" stroke-width="0.35">1587 - VERROGNE</text>
<text transform="translate(714.30,201.57) rotate(-90)" font-size="13.40" fill="#2b2b2b" textLength="90.83" lengthAdjust="spacingAndGlyphs" stroke="#2b2b2b" stroke-width="0.2">1218 - Saint-Nicolas</text>
<text transform="translate(769.58,274.21) rotate(-90)" font-size="13.40" fill="#2b2b2b" textLength="78.05" lengthAdjust="spacingAndGlyphs" stroke="#2b2b2b" stroke-width="0.2">678 - Saint-Pierre</text>
<text transform="translate(800.22,280.32) rotate(-90)" font-size="13.40" fill="#2b2b2b" textLength="75.60" lengthAdjust="spacingAndGlyphs" stroke="#2b2b2b" stroke-width="0.2">640 - Aymavilles</text>
<text transform="translate(832.18,281.50) rotate(-90)" font-size="13.40" fill="#2b2b2b" textLength="62.34" lengthAdjust="spacingAndGlyphs" stroke="#2b2b2b" stroke-width="0.2">620 - Gressan</text>
<text transform="translate(909.44,176.05) rotate(-90)" font-size="13.40" fill="#2b2b2b" textLength="76.91" lengthAdjust="spacingAndGlyphs" stroke="#2b2b2b" stroke-width="0.2">1413 - Les Fleurs</text>
<text x="48.90" y="410.2" font-size="10" fill="#222" text-anchor="middle" textLength="4.5" lengthAdjust="spacingAndGlyphs">0</text>
<text x="119.20" y="410.2" font-size="10" fill="#222" text-anchor="middle" textLength="8.9" lengthAdjust="spacingAndGlyphs">10</text>
<text x="185.80" y="410.2" font-size="10" fill="#222" text-anchor="middle" textLength="8.9" lengthAdjust="spacingAndGlyphs">20</text>
<text x="252.40" y="410.2" font-size="10" fill="#222" text-anchor="middle" textLength="8.9" lengthAdjust="spacingAndGlyphs">30</text>
<text x="319.01" y="410.2" font-size="10" fill="#222" text-anchor="middle" textLength="8.9" lengthAdjust="spacingAndGlyphs">40</text>
<text x="385.61" y="410.2" font-size="10" fill="#222" text-anchor="middle" textLength="8.9" lengthAdjust="spacingAndGlyphs">50</text>
<text x="452.21" y="410.2" font-size="10" fill="#222" text-anchor="middle" textLength="8.9" lengthAdjust="spacingAndGlyphs">60</text>
<text x="518.81" y="410.2" font-size="10" fill="#222" text-anchor="middle" textLength="8.9" lengthAdjust="spacingAndGlyphs">70</text>
<text x="585.41" y="410.2" font-size="10" fill="#222" text-anchor="middle" textLength="8.9" lengthAdjust="spacingAndGlyphs">80</text>
<text x="652.01" y="410.2" font-size="10" fill="#222" text-anchor="middle" textLength="8.9" lengthAdjust="spacingAndGlyphs">90</text>
<text x="718.62" y="410.2" font-size="10" fill="#222" text-anchor="middle" textLength="13.4" lengthAdjust="spacingAndGlyphs">100</text>
<text x="785.22" y="410.2" font-size="10" fill="#222" text-anchor="middle" textLength="13.4" lengthAdjust="spacingAndGlyphs">110</text>
<text x="851.82" y="410.2" font-size="10" fill="#222" text-anchor="middle" textLength="13.4" lengthAdjust="spacingAndGlyphs">120</text>
<text x="918.42" y="410.2" font-size="10" fill="#222" text-anchor="middle" textLength="13.4" lengthAdjust="spacingAndGlyphs">130</text>
<text transform="translate(56.24,433.63) rotate(-90)" font-size="14.00" font-weight="bold" fill="#111" textLength="13.84" lengthAdjust="spacingAndGlyphs" stroke="#111" stroke-width="0.25">0.0</text>
<text transform="translate(70.22,433.85) rotate(-90)" font-size="14.00" fill="#383838" textLength="14.15" lengthAdjust="spacingAndGlyphs">2.1</text>
<text transform="translate(120.84,433.84) rotate(-90)" font-size="14.00" fill="#383838" textLength="14.15" lengthAdjust="spacingAndGlyphs">9.7</text>
<text transform="translate(191.44,439.21) rotate(-90)" font-size="14.00" font-weight="bold" fill="#111" textLength="19.37" lengthAdjust="spacingAndGlyphs" stroke="#111" stroke-width="0.25">20.3</text>
<text transform="translate(209.42,439.61) rotate(-90)" font-size="14.00" fill="#383838" textLength="19.81" lengthAdjust="spacingAndGlyphs">23.0</text>
<text transform="translate(255.37,439.53) rotate(-90)" font-size="14.00" fill="#383838" textLength="19.81" lengthAdjust="spacingAndGlyphs">29.9</text>
<text transform="translate(298.67,439.71) rotate(-90)" font-size="14.00" fill="#383838" textLength="19.81" lengthAdjust="spacingAndGlyphs">36.4</text>
<text transform="translate(373.93,439.50) rotate(-90)" font-size="14.00" fill="#383838" textLength="19.81" lengthAdjust="spacingAndGlyphs">47.7</text>
<text transform="translate(415.22,439.53) rotate(-90)" font-size="14.00" fill="#383838" textLength="19.81" lengthAdjust="spacingAndGlyphs">53.9</text>
<text transform="translate(447.19,439.50) rotate(-90)" font-size="14.00" fill="#383838" textLength="19.81" lengthAdjust="spacingAndGlyphs">58.7</text>
<text transform="translate(467.83,439.27) rotate(-90)" font-size="14.00" font-weight="bold" fill="#111" textLength="19.37" lengthAdjust="spacingAndGlyphs" stroke="#111" stroke-width="0.25">61.8</text>
<text transform="translate(482.49,439.61) rotate(-90)" font-size="14.00" fill="#383838" textLength="19.81" lengthAdjust="spacingAndGlyphs">64.0</text>
<text transform="translate(519.78,439.56) rotate(-90)" font-size="14.00" fill="#383838" textLength="19.81" lengthAdjust="spacingAndGlyphs">69.6</text>
<text transform="translate(553.75,439.50) rotate(-90)" font-size="14.00" fill="#383838" textLength="19.81" lengthAdjust="spacingAndGlyphs">74.7</text>
<text transform="translate(604.37,439.21) rotate(-90)" font-size="14.00" font-weight="bold" fill="#111" textLength="19.37" lengthAdjust="spacingAndGlyphs" stroke="#111" stroke-width="0.25">82.3</text>
<text transform="translate(623.01,439.51) rotate(-90)" font-size="14.00" fill="#383838" textLength="19.81" lengthAdjust="spacingAndGlyphs">85.1</text>
<text transform="translate(669.64,439.30) rotate(-90)" font-size="14.00" font-weight="bold" fill="#111" textLength="19.37" lengthAdjust="spacingAndGlyphs" stroke="#111" stroke-width="0.25">92.1</text>
<text transform="translate(714.26,439.57) rotate(-90)" font-size="14.00" fill="#383838" textLength="19.81" lengthAdjust="spacingAndGlyphs">98.8</text>
<text transform="translate(769.54,445.17) rotate(-90)" font-size="14.00" fill="#383838" textLength="25.47" lengthAdjust="spacingAndGlyphs">107.1</text>
<text transform="translate(800.17,445.16) rotate(-90)" font-size="14.00" fill="#383838" textLength="25.47" lengthAdjust="spacingAndGlyphs">111.7</text>
<text transform="translate(832.14,445.24) rotate(-90)" font-size="14.00" fill="#383838" textLength="25.47" lengthAdjust="spacingAndGlyphs">116.5</text>
<text transform="translate(909.40,445.17) rotate(-90)" font-size="14.00" fill="#383838" textLength="25.47" lengthAdjust="spacingAndGlyphs">128.1</text>
<text transform="translate(942.04,444.70) rotate(-90)" font-size="14.00" font-weight="bold" fill="#111" textLength="24.91" lengthAdjust="spacingAndGlyphs" stroke="#111" stroke-width="0.25">133.0</text>
<path d="M51.5,460.5 V472.3 H937.3 V461.3" fill="none" stroke="#858585" stroke-width="1.2"/>
<text x="489.6" y="468.0" font-size="14" fill="#7e7e7e" text-anchor="middle" textLength="13.0" lengthAdjust="spacingAndGlyphs">A0</text>
<text transform="translate(950.6,354.4) rotate(-90)" font-size="11.5" font-weight="bold" fill="#111" textLength="29.6" lengthAdjust="spacingAndGlyphs">S&#916;S</text>
<path d="M20.6,201.3 H42.4 Q44.6,201.3 44.6,203.5 V330 A13.1,13.1 0 0 1 18.4,330 V203.5 Q18.4,201.3 20.6,201.3 Z" fill="url(#gBadgeG)" stroke="#159a36" stroke-width="2.8"/>
<text transform="translate(37.4,311.9) rotate(-90)" font-size="16.6" font-weight="bold" fill="#111" stroke="#111" stroke-width="0.3" textLength="99.6" lengthAdjust="spacingAndGlyphs">561 - AOSTA</text>
<g transform="translate(31.8,329.8)">
<circle r="11.7" fill="url(#gGreenBall)" stroke="#1e1a22" stroke-width="1.2"/>
<circle cx="-6.1" cy="3.9" r="2.85" fill="#1f8f2c" stroke="#fff" stroke-width="1.5"/>
<circle cx="5.6" cy="3.9" r="2.85" fill="#1f8f2c" stroke="#fff" stroke-width="1.5"/>
<path d="M-6.1,3.9 L-1.2,0.2 L3.8,0.0 L5.6,3.9" stroke="#fff" stroke-width="1.1" fill="none"/>
<path d="M-5.4,-4.6 C-5.0,-6.2 -3.0,-6.9 0.5,-6.9 L2.5,-7.5 C4.2,-7.7 5.1,-6.5 4.5,-5.2 L3.4,-4.4 L4.9,-1.8 L3.9,-1.1 L2.4,-3.0 L1.2,-2.4 L2.2,0.6 L0.6,3.9 L-0.8,3.7 L0.2,0.8 L-2.6,-0.3 C-4.2,-0.8 -5.6,-2.6 -5.4,-4.6 Z" fill="#fff"/>
</g>
<path d="M948.8,33.9 H968.8 Q972.0,33.9 972.0,37.1 V154.5 A12.7,12.7 0 0 1 945.7,154.5 V37.1 Q945.7,33.9 948.8,33.9 Z" fill="url(#gBadgeR)" stroke="#e30613" stroke-width="3.4"/>
<text transform="translate(964.4,137.0) rotate(-90)" font-size="16.6" font-weight="bold" fill="#111" stroke="#111" stroke-width="0.3" textLength="91.4" lengthAdjust="spacingAndGlyphs">1793 - PILA</text>
<g transform="translate(958.9,154.3)">
<circle r="11.1" fill="url(#gRedBall)" stroke="#1e1a22" stroke-width="1.2"/>
<circle cx="-5.4" cy="3.8" r="2.8" fill="#d0141c" stroke="#fff" stroke-width="1.5"/>
<circle cx="5.6" cy="3.8" r="2.8" fill="#d0141c" stroke="#fff" stroke-width="1.5"/>
<circle cx="0.9" cy="-8.6" r="1.8" fill="#fff"/>
<path d="M-1.6,-7.6 C0.2,-7.4 2.2,-7.2 2.4,-5.8 L4.6,-2.2 L3.6,-1.4 L1.4,-3.6 L0.8,-1.4 L1.6,1.2 L-0.2,3.6 L-1.6,3.2 L-0.8,0.8 L-2.8,-0.8 C-3.8,-2.6 -3.4,-6.2 -1.6,-7.6 Z" fill="#fff"/>
<path d="M-5.4,3.8 L-1.0,0.4 L4.0,0.2 L5.6,3.8" stroke="#fff" stroke-width="1.1" fill="none"/>
</g>
</svg></body></html>
